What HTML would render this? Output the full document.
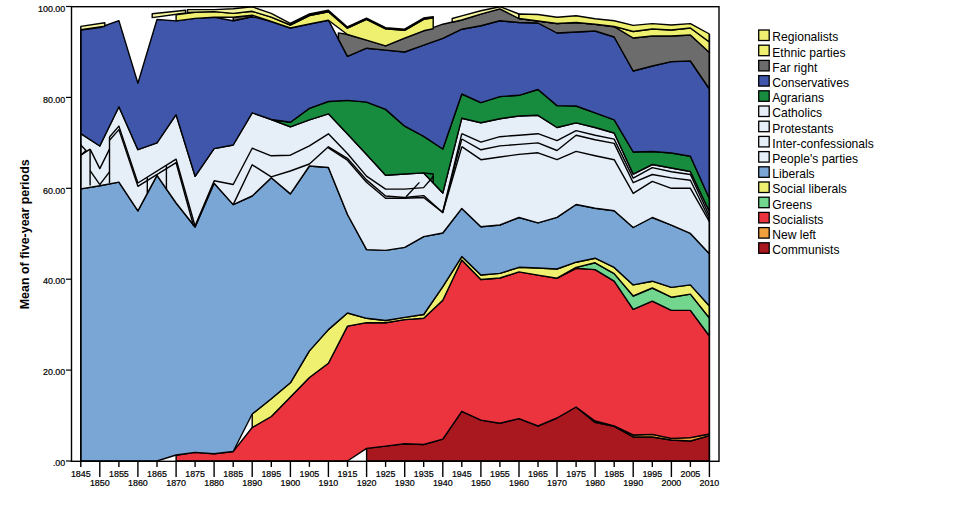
<!DOCTYPE html>
<html><head><meta charset="utf-8"><style>
html,body{margin:0;padding:0;background:#fff;width:960px;height:522px;overflow:hidden}
svg{position:absolute;left:0;top:0}
text{font-family:"Liberation Sans",sans-serif;fill:#000}
.yt,.xt{font-size:9.4px;stroke:#000;stroke-width:0.22px}
.lg{font-size:12.1px}
.ax{font-size:12.45px;font-weight:bold}
</style></head><body>
<svg width="960" height="522" viewBox="0 0 960 522">
<polygon points="366.6,448.4 385.6,446.1 404.7,443.8 423.7,444.5 442.8,439.1 461.8,411.3 480.9,420.1 499.9,423.3 519.0,418.6 538.0,426.0 557.0,418.0 576.1,407.0 595.1,422.4 614.2,426.4 633.2,437.0 652.3,437.0 671.4,440.0 690.4,441.0 709.4,435.6 709.4,461.0 690.4,461.0 671.4,461.0 652.3,461.0 633.2,461.0 614.2,461.0 595.1,461.0 576.1,461.0 557.0,461.0 538.0,461.0 519.0,461.0 499.9,461.0 480.9,461.0 461.8,461.0 442.8,461.0 423.7,461.0 404.7,461.0 385.6,461.0 366.6,461.0" fill="#a9171f" stroke="#000" stroke-width="1.40" stroke-linejoin="round"/>
<polygon points="576.1,407.0 595.1,421.0 614.2,426.0 633.2,435.0 652.3,434.4 671.4,438.4 690.4,437.6 709.4,434.0 709.4,435.6 690.4,441.0 671.4,440.0 652.3,437.0 633.2,437.0 614.2,426.4 595.1,422.4 576.1,407.0" fill="#f0a03c" stroke="#000" stroke-width="1.40" stroke-linejoin="round"/>
<polygon points="176.1,455.4 195.1,452.4 214.1,453.8 233.2,451.5 252.2,427.5 271.3,416.5 290.4,397.0 309.4,377.5 328.4,363.3 347.5,326.1 366.6,322.6 385.6,322.8 404.7,319.6 423.7,318.2 442.8,300.3 461.8,260.0 480.9,279.5 499.9,278.0 519.0,271.9 538.0,275.1 557.0,278.2 576.1,268.3 595.1,269.6 614.2,281.2 633.2,309.4 652.3,301.2 671.4,310.4 690.4,310.4 709.4,336.0 709.4,434.0 690.4,437.6 671.4,438.4 652.3,434.4 633.2,435.0 614.2,426.0 595.1,421.0 576.1,407.0 557.0,418.0 538.0,426.0 519.0,418.6 499.9,423.3 480.9,420.1 461.8,411.3 442.8,439.1 423.7,444.5 404.7,443.8 385.6,446.1 366.6,448.4 347.5,461.0 328.4,461.0 309.4,461.0 290.4,461.0 271.3,461.0 252.2,461.0 233.2,461.0 214.1,461.0 195.1,461.0 176.1,461.0" fill="#ec343e" stroke="#000" stroke-width="1.40" stroke-linejoin="round"/>
<polygon points="557.0,278.2 576.1,267.4 595.1,262.8 614.2,273.6 633.2,296.0 652.3,288.0 671.4,297.2 690.4,294.1 709.4,318.0 709.4,336.0 690.4,310.4 671.4,310.4 652.3,301.2 633.2,309.4 614.2,281.2 595.1,269.6 576.1,268.3 557.0,278.2" fill="#72d68e" stroke="#000" stroke-width="1.40" stroke-linejoin="round"/>
<polygon points="252.2,414.0 271.3,398.8 290.4,382.8 309.4,350.9 328.4,329.6 347.5,313.0 366.6,318.3 385.6,320.5 404.7,317.4 423.7,314.5 442.8,286.6 461.8,256.6 480.9,275.0 499.9,273.4 519.0,267.3 538.0,268.0 557.0,269.0 576.1,262.2 595.1,258.2 614.2,267.4 633.2,284.9 652.3,281.2 671.4,287.4 690.4,284.9 709.4,306.0 709.4,318.0 690.4,294.1 671.4,297.2 652.3,288.0 633.2,296.0 614.2,273.6 595.1,262.8 576.1,267.4 557.0,278.2 538.0,275.1 519.0,271.9 499.9,278.0 480.9,279.5 461.8,260.0 442.8,300.3 423.7,318.2 404.7,319.6 385.6,322.8 366.6,322.6 347.5,326.1 328.4,363.3 309.4,377.5 290.4,397.0 271.3,416.5 252.2,427.5" fill="#f0f070" stroke="#000" stroke-width="1.40" stroke-linejoin="round"/>
<polygon points="80.8,188.9 99.8,185.8 118.9,182.1 137.9,210.8 157.0,175.3 176.1,203.0 195.1,227.0 214.1,183.2 233.2,204.6 252.2,196.0 271.3,177.8 290.4,193.9 309.4,166.0 328.4,167.5 347.5,214.5 366.6,249.6 385.6,250.4 404.7,247.4 423.7,236.6 442.8,233.0 461.8,208.4 480.9,226.8 499.9,225.0 519.0,217.5 538.0,222.9 557.0,217.4 576.1,204.5 595.1,208.2 614.2,210.7 633.2,227.5 652.3,217.5 671.4,225.2 690.4,233.4 709.4,253.7 709.4,306.0 690.4,284.9 671.4,287.4 652.3,281.2 633.2,284.9 614.2,267.4 595.1,258.2 576.1,262.2 557.0,269.0 538.0,268.0 519.0,267.3 499.9,273.4 480.9,275.0 461.8,256.6 442.8,286.6 423.7,314.5 404.7,317.4 385.6,320.5 366.6,318.3 347.5,313.0 328.4,329.6 309.4,350.9 290.4,382.8 271.3,398.8 252.2,414.0 233.2,451.5 214.1,453.8 195.1,452.4 176.1,455.0 157.0,461.0 137.9,461.0 118.9,461.0 99.8,461.0 80.8,461.0" fill="#7aa6d6" stroke="#000" stroke-width="1.40" stroke-linejoin="round"/>
<polygon points="80.8,133.7 99.8,146.0 118.9,106.7 137.9,149.7 157.0,142.9 176.1,114.7 195.1,176.3 214.1,148.6 233.2,145.0 252.2,112.8 271.3,119.5 290.4,126.8 309.4,119.9 328.4,113.8 347.5,134.0 366.6,154.5 385.6,175.2 404.7,174.0 423.7,172.9 442.8,193.0 461.8,118.2 480.9,122.8 499.9,118.7 519.0,116.0 538.0,115.3 557.0,127.5 576.1,122.9 595.1,127.5 614.2,133.0 633.2,174.1 652.3,164.5 671.4,168.0 690.4,171.5 709.4,211.5 709.4,253.7 690.4,233.4 671.4,225.2 652.3,217.5 633.2,227.5 614.2,210.7 595.1,208.2 576.1,204.5 557.0,217.4 538.0,222.9 519.0,217.5 499.9,225.0 480.9,226.8 461.8,208.4 442.8,233.0 423.7,236.6 404.7,247.4 385.6,250.4 366.6,249.6 347.5,214.5 328.4,167.5 309.4,166.0 290.4,193.9 271.3,177.8 252.2,196.0 233.2,204.6 214.1,183.2 195.1,227.0 176.1,203.0 157.0,175.3 137.9,210.8 118.9,182.1 99.8,185.8 80.8,188.9" fill="#e6eef8" stroke="#000" stroke-width="1.40" stroke-linejoin="round"/>
<polygon points="271.3,119.5 290.4,122.2 309.4,108.4 328.4,101.5 347.5,100.4 366.6,102.1 385.6,109.4 404.7,126.2 423.7,136.3 442.8,149.0 461.8,94.0 480.9,102.6 499.9,96.6 519.0,95.3 538.0,89.5 557.0,105.6 576.1,106.0 595.1,112.8 614.2,119.8 633.2,152.0 652.3,151.5 671.4,153.0 690.4,156.3 709.4,198.5 709.4,211.5 690.4,171.5 671.4,168.0 652.3,164.5 633.2,174.1 614.2,133.0 595.1,127.5 576.1,122.9 557.0,127.5 538.0,115.3 519.0,116.0 499.9,118.7 480.9,122.8 461.8,118.2 442.8,193.0 423.7,172.9 404.7,174.0 385.6,175.2 366.6,154.5 347.5,134.0 328.4,113.8 309.4,119.9 290.4,126.8 271.3,119.5" fill="#178c3e" stroke="#000" stroke-width="1.40" stroke-linejoin="round"/>
<polygon points="80.8,30.1 99.8,27.5 118.9,20.6 137.9,83.3 157.0,19.5 176.1,20.9 195.1,18.4 214.1,17.2 233.2,20.7 252.2,16.7 271.3,21.5 290.4,28.0 309.4,24.0 328.4,20.2 347.5,56.4 366.6,48.2 385.6,50.1 404.7,52.0 423.7,45.2 442.8,38.3 461.8,29.2 480.9,25.8 499.9,20.8 519.0,22.5 538.0,23.0 557.0,33.0 576.1,32.0 595.1,31.0 614.2,37.0 633.2,71.0 652.3,66.0 671.4,61.6 690.4,61.0 709.4,89.0 709.4,198.5 690.4,156.3 671.4,153.0 652.3,151.5 633.2,152.0 614.2,119.8 595.1,112.8 576.1,106.0 557.0,105.6 538.0,89.5 519.0,95.3 499.9,96.6 480.9,102.6 461.8,94.0 442.8,149.0 423.7,136.3 404.7,126.2 385.6,109.4 366.6,102.1 347.5,100.4 328.4,101.5 309.4,108.4 290.4,122.2 271.3,119.5 252.2,112.8 233.2,145.0 214.1,148.6 195.1,176.3 176.1,114.7 157.0,142.9 137.9,149.7 118.9,106.7 99.8,146.0 80.8,133.7" fill="#3f56aa" stroke="#000" stroke-width="1.40" stroke-linejoin="round"/>
<polyline points="80.8,145.1 86.0,150.5 80.8,155.2" fill="none" stroke="#000" stroke-width="1.40" stroke-linejoin="round"/><polyline points="80.8,155.2 90.1,149.1" fill="none" stroke="#000" stroke-width="1.40" stroke-linejoin="round"/><polyline points="90.1,149.1 90.1,185.5" fill="none" stroke="#000" stroke-width="1.40" stroke-linejoin="round"/><polyline points="90.1,149.1 99.8,168.6 109.5,149.1" fill="none" stroke="#000" stroke-width="1.40" stroke-linejoin="round"/><polyline points="90.1,170.6 99.8,184.7 109.5,171.9" fill="none" stroke="#000" stroke-width="1.40" stroke-linejoin="round"/><polyline points="109.5,137.0 109.5,183.0" fill="none" stroke="#000" stroke-width="1.40" stroke-linejoin="round"/><polyline points="109.5,137.0 118.9,126.1 137.9,183.0 176.1,159.2 195.1,226.3" fill="none" stroke="#000" stroke-width="1.40" stroke-linejoin="round"/><polyline points="109.5,140.2 118.9,129.6 137.9,186.4 176.1,162.7 193.6,226.0" fill="none" stroke="#000" stroke-width="1.40" stroke-linejoin="round"/><polyline points="147.3,177.2 147.3,193.6" fill="none" stroke="#000" stroke-width="1.40" stroke-linejoin="round"/><polyline points="166.4,165.2 166.4,189.3" fill="none" stroke="#000" stroke-width="1.40" stroke-linejoin="round"/><polyline points="195.1,225.7 214.2,180.7 233.2,184.5 252.2,148.2 271.2,155.8 290.3,155.2 309.4,145.8 328.4,133.8 347.4,153.5 366.5,176.1 385.6,189.1 404.6,189.1 423.6,187.6 433.2,176.5" fill="none" stroke="#000" stroke-width="1.40" stroke-linejoin="round"/><polyline points="233.2,204.6 252.2,164.8 271.2,176.9 290.3,171.0 309.4,164.0 328.4,146.8 347.4,158.3 366.5,179.9 385.6,196.0 404.6,197.5 423.6,195.6 442.7,212.5 461.8,139.0" fill="none" stroke="#000" stroke-width="1.40" stroke-linejoin="round"/><polyline points="328.4,147.8 347.4,160.2 366.5,182.2 385.6,198.3 404.6,198.3 423.6,197.5 442.7,212.5 461.8,146.7" fill="none" stroke="#000" stroke-width="1.40" stroke-linejoin="round"/><polyline points="442.7,212.5 461.8,133.7" fill="none" stroke="#000" stroke-width="1.40" stroke-linejoin="round"/><polyline points="406.1,196.8 419.4,182.4" fill="none" stroke="#000" stroke-width="1.40" stroke-linejoin="round"/><polyline points="423.6,172.9 433.2,174.0 433.2,183.0" fill="none" stroke="#000" stroke-width="1.40" stroke-linejoin="round"/><polyline points="461.8,133.7 480.9,142.1 499.9,136.7 519.0,135.2 538.0,133.7 557.0,140.6 576.1,130.6 595.1,135.2 614.2,139.1 633.2,178.1 652.3,167.6 671.4,171.7 690.4,174.5 709.4,215.9" fill="none" stroke="#000" stroke-width="1.40" stroke-linejoin="round"/><polyline points="461.8,139.0 480.9,149.8 499.9,145.9 519.0,144.4 538.0,142.9 557.0,150.5 576.1,135.2 595.1,139.8 614.2,143.4 633.2,182.7 652.3,174.5 671.4,177.9 690.4,180.2 709.4,219.3" fill="none" stroke="#000" stroke-width="1.40" stroke-linejoin="round"/><polyline points="461.8,146.7 480.9,159.7 499.9,157.0 519.0,154.4 538.0,152.8 557.0,159.7 576.1,151.4 595.1,155.7 614.2,159.7 633.2,193.4 652.3,181.4 671.4,188.3 690.4,188.3 709.4,221.6" fill="none" stroke="#000" stroke-width="1.40" stroke-linejoin="round"/>
<polygon points="80.8,26.4 104.8,22.8 104.8,26.3 80.8,29.8" fill="#f5f5a0" stroke="#000" stroke-width="1.40" stroke-linejoin="round"/>
<polygon points="152.2,13.8 185.6,10.2 185.6,13.0 152.2,17.6" fill="#f5f5a0" stroke="#000" stroke-width="1.40" stroke-linejoin="round"/>
<polygon points="233.2,17.2 252.2,15.2 252.2,16.7 233.2,20.7" fill="#6c6c6c" stroke="#000" stroke-width="1.40" stroke-linejoin="round"/>
<polygon points="338.4,32.9 347.5,34.5 366.6,40.2 385.6,45.9 404.7,38.1 423.7,30.8 442.8,24.2 461.8,20.0 480.9,14.2 499.9,8.8 519.0,18.5 538.0,21.0 557.0,23.5 576.1,22.5 595.1,24.2 614.2,26.7 633.2,38.0 652.3,36.0 671.4,36.0 690.4,35.0 709.4,52.5 709.4,89.0 690.4,61.0 671.4,61.6 652.3,66.0 633.2,71.0 614.2,37.0 595.1,31.0 576.1,32.0 557.0,33.0 538.0,23.0 519.0,22.5 499.9,20.8 480.9,25.8 461.8,29.2 442.8,38.3 423.7,45.2 404.7,52.0 385.6,50.1 366.6,48.2 347.5,56.4 338.4,39.2" fill="#6c6c6c" stroke="#000" stroke-width="1.40" stroke-linejoin="round"/>
<polygon points="176.1,14.7 195.1,12.2 214.2,11.6 233.2,13.4 252.2,11.3 271.2,17.2 290.3,25.0 309.4,15.5 328.4,11.8 347.4,28.2 366.5,19.4 385.6,28.8 404.6,30.3 423.6,19.4 433.2,17.8 433.2,28.8 423.6,30.8 404.6,38.1 385.6,45.9 366.5,40.2 347.4,34.5 328.4,20.2 309.4,24.0 290.3,28.0 271.2,21.5 252.2,15.2 233.2,17.2 214.2,17.2 195.1,18.4 176.1,20.9" fill="#f0f070" stroke="#000" stroke-width="1.40" stroke-linejoin="round"/>
<polygon points="187.5,9.6 214.2,9.6 233.2,8.8 252.2,6.8 271.2,13.4 290.3,23.4 309.4,14.0 328.4,10.3 347.4,27.0 366.5,18.2 385.6,27.6 404.6,29.2 423.6,18.0 433.2,16.6 433.2,17.8 423.6,19.4 404.6,30.3 385.6,28.8 366.5,19.4 347.4,28.2 328.4,11.8 309.4,15.5 290.3,25.0 271.2,17.2 252.2,11.3 233.2,13.4 214.2,11.6 195.1,12.2 187.5,12.5" fill="#f5f5a0" stroke="#000" stroke-width="1.40" stroke-linejoin="round"/>
<polygon points="452.2,18.5 461.8,15.8 480.8,10.8 499.9,6.7 518.9,14.0 518.9,18.5 499.9,8.8 480.8,14.2 461.8,20.0 452.2,22.3" fill="#f5f5a0" stroke="#000" stroke-width="1.40" stroke-linejoin="round"/>
<polygon points="519.0,18.5 538.0,21.0 557.0,23.5 576.1,22.5 595.1,24.2 614.2,26.4 633.2,31.5 652.3,29.0 671.4,30.0 690.4,28.0 709.4,42.0 709.4,52.5 690.4,35.0 671.4,36.0 652.3,36.0 633.2,38.0 614.2,26.7 595.1,24.2 576.1,22.5 557.0,23.5 538.0,21.0 519.0,18.5" fill="#f0f070" stroke="#000" stroke-width="1.40" stroke-linejoin="round"/>
<polygon points="519.0,14.0 538.0,14.5 557.0,17.3 576.1,15.8 595.1,18.8 614.2,20.8 633.2,25.4 652.3,23.6 671.4,25.0 690.4,23.6 709.4,34.0 709.4,42.0 690.4,28.0 671.4,30.0 652.3,29.0 633.2,31.5 614.2,26.4 595.1,24.2 576.1,22.5 557.0,23.5 538.0,21.0 519.0,18.5" fill="#f0f070" stroke="#000" stroke-width="1.40" stroke-linejoin="round"/>
<polyline points="80.8,30.1 80.8,461.0" fill="none" stroke="#000" stroke-width="1.40" stroke-linejoin="round"/><polyline points="709.4,34.0 709.4,461.0" fill="none" stroke="#000" stroke-width="1.40" stroke-linejoin="round"/>
<rect x="71.5" y="6.7" width="647.5" height="454.6" fill="none" stroke="#000" stroke-width="1.4"/>
<line x1="66" y1="6.5" x2="71.5" y2="6.5" stroke="#000" stroke-width="1.2"/>
<text transform="translate(65.3,11.7) scale(0.95,1)" class="yt" text-anchor="end">100.00</text>
<line x1="66" y1="97.4" x2="71.5" y2="97.4" stroke="#000" stroke-width="1.2"/>
<text transform="translate(65.3,102.6) scale(0.95,1)" class="yt" text-anchor="end">80.00</text>
<line x1="66" y1="188.3" x2="71.5" y2="188.3" stroke="#000" stroke-width="1.2"/>
<text transform="translate(65.3,193.5) scale(0.95,1)" class="yt" text-anchor="end">60.00</text>
<line x1="66" y1="279.2" x2="71.5" y2="279.2" stroke="#000" stroke-width="1.2"/>
<text transform="translate(65.3,284.4) scale(0.95,1)" class="yt" text-anchor="end">40.00</text>
<line x1="66" y1="370.1" x2="71.5" y2="370.1" stroke="#000" stroke-width="1.2"/>
<text transform="translate(65.3,375.3) scale(0.95,1)" class="yt" text-anchor="end">20.00</text>
<line x1="66" y1="461.0" x2="71.5" y2="461.0" stroke="#000" stroke-width="1.2"/>
<text transform="translate(65.3,466.2) scale(0.95,1)" class="yt" text-anchor="end">.00</text>
<line x1="80.8" y1="461" x2="80.8" y2="466.9" stroke="#000" stroke-width="1.4"/>
<text transform="translate(80.8,476.6) scale(0.95,1)" class="xt" text-anchor="middle">1845</text>
<line x1="99.8" y1="461" x2="99.8" y2="477" stroke="#000" stroke-width="1.4"/>
<text transform="translate(99.8,485.6) scale(0.95,1)" class="xt" text-anchor="middle">1850</text>
<line x1="118.9" y1="461" x2="118.9" y2="466.9" stroke="#000" stroke-width="1.4"/>
<text transform="translate(118.9,476.6) scale(0.95,1)" class="xt" text-anchor="middle">1855</text>
<line x1="137.9" y1="461" x2="137.9" y2="477" stroke="#000" stroke-width="1.4"/>
<text transform="translate(137.9,485.6) scale(0.95,1)" class="xt" text-anchor="middle">1860</text>
<line x1="157.0" y1="461" x2="157.0" y2="466.9" stroke="#000" stroke-width="1.4"/>
<text transform="translate(157.0,476.6) scale(0.95,1)" class="xt" text-anchor="middle">1865</text>
<line x1="176.1" y1="461" x2="176.1" y2="477" stroke="#000" stroke-width="1.4"/>
<text transform="translate(176.1,485.6) scale(0.95,1)" class="xt" text-anchor="middle">1870</text>
<line x1="195.1" y1="461" x2="195.1" y2="466.9" stroke="#000" stroke-width="1.4"/>
<text transform="translate(195.1,476.6) scale(0.95,1)" class="xt" text-anchor="middle">1875</text>
<line x1="214.1" y1="461" x2="214.1" y2="477" stroke="#000" stroke-width="1.4"/>
<text transform="translate(214.1,485.6) scale(0.95,1)" class="xt" text-anchor="middle">1880</text>
<line x1="233.2" y1="461" x2="233.2" y2="466.9" stroke="#000" stroke-width="1.4"/>
<text transform="translate(233.2,476.6) scale(0.95,1)" class="xt" text-anchor="middle">1885</text>
<line x1="252.2" y1="461" x2="252.2" y2="477" stroke="#000" stroke-width="1.4"/>
<text transform="translate(252.2,485.6) scale(0.95,1)" class="xt" text-anchor="middle">1890</text>
<line x1="271.3" y1="461" x2="271.3" y2="466.9" stroke="#000" stroke-width="1.4"/>
<text transform="translate(271.3,476.6) scale(0.95,1)" class="xt" text-anchor="middle">1895</text>
<line x1="290.4" y1="461" x2="290.4" y2="477" stroke="#000" stroke-width="1.4"/>
<text transform="translate(290.4,485.6) scale(0.95,1)" class="xt" text-anchor="middle">1900</text>
<line x1="309.4" y1="461" x2="309.4" y2="466.9" stroke="#000" stroke-width="1.4"/>
<text transform="translate(309.4,476.6) scale(0.95,1)" class="xt" text-anchor="middle">1905</text>
<line x1="328.4" y1="461" x2="328.4" y2="477" stroke="#000" stroke-width="1.4"/>
<text transform="translate(328.4,485.6) scale(0.95,1)" class="xt" text-anchor="middle">1910</text>
<line x1="347.5" y1="461" x2="347.5" y2="466.9" stroke="#000" stroke-width="1.4"/>
<text transform="translate(347.5,476.6) scale(0.95,1)" class="xt" text-anchor="middle">1915</text>
<line x1="366.6" y1="461" x2="366.6" y2="477" stroke="#000" stroke-width="1.4"/>
<text transform="translate(366.6,485.6) scale(0.95,1)" class="xt" text-anchor="middle">1920</text>
<line x1="385.6" y1="461" x2="385.6" y2="466.9" stroke="#000" stroke-width="1.4"/>
<text transform="translate(385.6,476.6) scale(0.95,1)" class="xt" text-anchor="middle">1925</text>
<line x1="404.7" y1="461" x2="404.7" y2="477" stroke="#000" stroke-width="1.4"/>
<text transform="translate(404.7,485.6) scale(0.95,1)" class="xt" text-anchor="middle">1930</text>
<line x1="423.7" y1="461" x2="423.7" y2="466.9" stroke="#000" stroke-width="1.4"/>
<text transform="translate(423.7,476.6) scale(0.95,1)" class="xt" text-anchor="middle">1935</text>
<line x1="442.8" y1="461" x2="442.8" y2="477" stroke="#000" stroke-width="1.4"/>
<text transform="translate(442.8,485.6) scale(0.95,1)" class="xt" text-anchor="middle">1940</text>
<line x1="461.8" y1="461" x2="461.8" y2="466.9" stroke="#000" stroke-width="1.4"/>
<text transform="translate(461.8,476.6) scale(0.95,1)" class="xt" text-anchor="middle">1945</text>
<line x1="480.9" y1="461" x2="480.9" y2="477" stroke="#000" stroke-width="1.4"/>
<text transform="translate(480.9,485.6) scale(0.95,1)" class="xt" text-anchor="middle">1950</text>
<line x1="499.9" y1="461" x2="499.9" y2="466.9" stroke="#000" stroke-width="1.4"/>
<text transform="translate(499.9,476.6) scale(0.95,1)" class="xt" text-anchor="middle">1955</text>
<line x1="519.0" y1="461" x2="519.0" y2="477" stroke="#000" stroke-width="1.4"/>
<text transform="translate(519.0,485.6) scale(0.95,1)" class="xt" text-anchor="middle">1960</text>
<line x1="538.0" y1="461" x2="538.0" y2="466.9" stroke="#000" stroke-width="1.4"/>
<text transform="translate(538.0,476.6) scale(0.95,1)" class="xt" text-anchor="middle">1965</text>
<line x1="557.0" y1="461" x2="557.0" y2="477" stroke="#000" stroke-width="1.4"/>
<text transform="translate(557.0,485.6) scale(0.95,1)" class="xt" text-anchor="middle">1970</text>
<line x1="576.1" y1="461" x2="576.1" y2="466.9" stroke="#000" stroke-width="1.4"/>
<text transform="translate(576.1,476.6) scale(0.95,1)" class="xt" text-anchor="middle">1975</text>
<line x1="595.1" y1="461" x2="595.1" y2="477" stroke="#000" stroke-width="1.4"/>
<text transform="translate(595.1,485.6) scale(0.95,1)" class="xt" text-anchor="middle">1980</text>
<line x1="614.2" y1="461" x2="614.2" y2="466.9" stroke="#000" stroke-width="1.4"/>
<text transform="translate(614.2,476.6) scale(0.95,1)" class="xt" text-anchor="middle">1985</text>
<line x1="633.2" y1="461" x2="633.2" y2="477" stroke="#000" stroke-width="1.4"/>
<text transform="translate(633.2,485.6) scale(0.95,1)" class="xt" text-anchor="middle">1990</text>
<line x1="652.3" y1="461" x2="652.3" y2="466.9" stroke="#000" stroke-width="1.4"/>
<text transform="translate(652.3,476.6) scale(0.95,1)" class="xt" text-anchor="middle">1995</text>
<line x1="671.4" y1="461" x2="671.4" y2="477" stroke="#000" stroke-width="1.4"/>
<text transform="translate(671.4,485.6) scale(0.95,1)" class="xt" text-anchor="middle">2000</text>
<line x1="690.4" y1="461" x2="690.4" y2="466.9" stroke="#000" stroke-width="1.4"/>
<text transform="translate(690.4,476.6) scale(0.95,1)" class="xt" text-anchor="middle">2005</text>
<line x1="709.4" y1="461" x2="709.4" y2="477" stroke="#000" stroke-width="1.4"/>
<text transform="translate(709.4,485.6) scale(0.95,1)" class="xt" text-anchor="middle">2010</text>
<rect x="758.7" y="30.0" width="10.5" height="10.5" fill="#f0f070" stroke="#000" stroke-width="1.3"/>
<text x="772.3" y="41.4" class="lg">Regionalists</text>
<rect x="758.7" y="45.2" width="10.5" height="10.5" fill="#f0f070" stroke="#000" stroke-width="1.3"/>
<text x="772.3" y="56.6" class="lg">Ethnic parties</text>
<rect x="758.7" y="60.4" width="10.5" height="10.5" fill="#6c6c6c" stroke="#000" stroke-width="1.3"/>
<text x="772.3" y="71.8" class="lg">Far right</text>
<rect x="758.7" y="75.6" width="10.5" height="10.5" fill="#3f56aa" stroke="#000" stroke-width="1.3"/>
<text x="772.3" y="87.0" class="lg">Conservatives</text>
<rect x="758.7" y="90.8" width="10.5" height="10.5" fill="#178c3e" stroke="#000" stroke-width="1.3"/>
<text x="772.3" y="102.2" class="lg">Agrarians</text>
<rect x="758.7" y="106.0" width="10.5" height="10.5" fill="#e6eef8" stroke="#000" stroke-width="1.3"/>
<text x="772.3" y="117.4" class="lg">Catholics</text>
<rect x="758.7" y="121.2" width="10.5" height="10.5" fill="#e6eef8" stroke="#000" stroke-width="1.3"/>
<text x="772.3" y="132.6" class="lg">Protestants</text>
<rect x="758.7" y="136.4" width="10.5" height="10.5" fill="#e6eef8" stroke="#000" stroke-width="1.3"/>
<text x="772.3" y="147.8" class="lg">Inter-confessionals</text>
<rect x="758.7" y="151.6" width="10.5" height="10.5" fill="#e6eef8" stroke="#000" stroke-width="1.3"/>
<text x="772.3" y="163.0" class="lg">People&#39;s parties</text>
<rect x="758.7" y="166.8" width="10.5" height="10.5" fill="#7aa6d6" stroke="#000" stroke-width="1.3"/>
<text x="772.3" y="178.2" class="lg">Liberals</text>
<rect x="758.7" y="182.0" width="10.5" height="10.5" fill="#f0f070" stroke="#000" stroke-width="1.3"/>
<text x="772.3" y="193.4" class="lg">Social liberals</text>
<rect x="758.7" y="197.2" width="10.5" height="10.5" fill="#72d68e" stroke="#000" stroke-width="1.3"/>
<text x="772.3" y="208.6" class="lg">Greens</text>
<rect x="758.7" y="212.4" width="10.5" height="10.5" fill="#ec343e" stroke="#000" stroke-width="1.3"/>
<text x="772.3" y="223.8" class="lg">Socialists</text>
<rect x="758.7" y="227.6" width="10.5" height="10.5" fill="#f0a03c" stroke="#000" stroke-width="1.3"/>
<text x="772.3" y="239.0" class="lg">New left</text>
<rect x="758.7" y="242.8" width="10.5" height="10.5" fill="#a9171f" stroke="#000" stroke-width="1.3"/>
<text x="772.3" y="254.2" class="lg">Communists</text>
<text class="ax" transform="translate(29.2,234.3) rotate(-90)" text-anchor="middle">Mean of five-year periods</text>
</svg></body></html>
